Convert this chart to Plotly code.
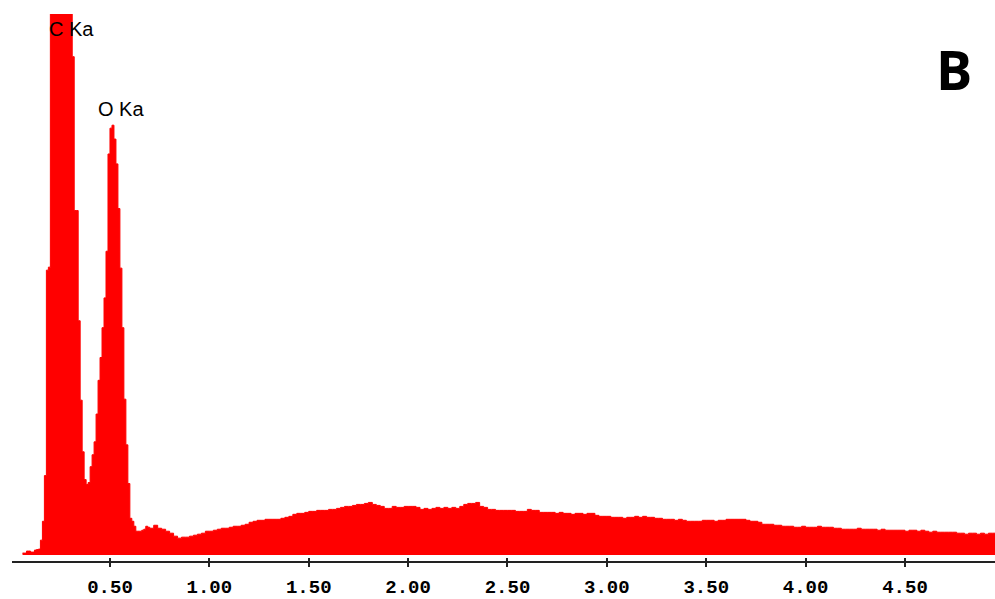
import plotly.graph_objects as go

# EDS spectrum: low-energy region sampled at 10 eV per channel
PEAK_START_KEV = 0.06
PEAK_STEP_KEV = 0.01
peak_counts = [
    4, 4, 8, 8,
    6, 6, 10, 11, 12, 30, 68, 160, 574, 580,
    1200, 1600, 1950, 2200, 2350, 2400, 2350, 2200, 1950, 1650,
    1350, 1004, 694, 694, 472, 312, 208, 152, 142, 146,
    178, 202, 228, 284, 352, 398, 458, 518, 612, 808,
    860, 866, 838, 788, 698, 578, 458, 314, 222, 144,
    74, 68, 58, 48, 48, 48, 50, 52, 58, 56,
]

# Bremsstrahlung continuum from 0.70 keV, binned at 20 eV
CONT_START_KEV = 0.70
CONT_STEP_KEV = 0.02
continuum_counts = [
    54, 60, 54, 52, 48, 44, 38, 34, 36, 36,
    38, 40, 42, 44, 48, 48, 50, 52, 54, 54,
    56, 58, 58, 60, 62, 66, 68, 70, 70, 72,
    72, 72, 72, 74, 76, 78, 82, 84, 84, 86,
    88, 88, 90, 90, 90, 92, 92, 94, 96, 98,
    98, 100, 102, 102, 104, 106, 102, 100, 98, 94,
    94, 98, 96, 96, 98, 98, 98, 96, 92, 94,
    92, 94, 96, 94, 96, 94, 96, 94, 98, 102,
    104, 104, 106, 98, 96, 92, 92, 90, 90, 90,
    90, 90, 88, 88, 88, 92, 90, 90, 86, 86,
    86, 86, 84, 86, 84, 84, 82, 84, 84, 82,
    84, 84, 80, 78, 78, 78, 76, 76, 76, 74,
    76, 76, 78, 76, 78, 76, 76, 74, 74, 72,
    72, 72, 70, 72, 70, 68, 68, 68, 68, 70,
    70, 70, 68, 70, 70, 72, 72, 72, 72, 72,
    70, 68, 68, 66, 62, 62, 62, 60, 60, 58,
    58, 58, 56, 56, 58, 56, 56, 56, 58, 56,
    56, 56, 54, 54, 52, 52, 52, 52, 54, 52,
    52, 52, 52, 50, 52, 50, 50, 50, 50, 50,
    48, 50, 50, 48, 50, 48, 46, 48, 46, 46,
    46, 46, 46, 44, 44, 42, 44, 44, 42, 44,
    42, 44, 44,
]

tick_values = [0.5, 1.0, 1.5, 2.0, 2.5, 3.0, 3.5, 4.0, 4.5]
tick_labels = ["0.50", "1.00", "1.50", "2.00", "2.50", "3.00", "3.50", "4.00", "4.50"]

peak_labels = ["C Ka", "O Ka"]
peak_label_kev = [0.305, 0.555]
peak_label_counts = [1060, 898]

# channel left edges, with a closing edge so the last step is drawn
energies = [PEAK_START_KEV + i * PEAK_STEP_KEV for i in range(len(peak_counts))]
energies += [CONT_START_KEV + j * CONT_STEP_KEV for j in range(len(continuum_counts))]
counts = peak_counts + continuum_counts
energies.append(CONT_START_KEV + len(continuum_counts) * CONT_STEP_KEV)
counts.append(continuum_counts[-1])

X_RANGE = [0.007, 4.953]
Y_RANGE = [-12, 1090]

fig = go.Figure()
fig.add_trace(go.Scatter(
    x=energies, y=counts,
    mode="lines", line=dict(shape="hv", width=1, color="#ff0000"),
    fill="tozeroy", fillcolor="#ff0000",
    hoverinfo="skip", showlegend=False,
))

for text, xk, yc in zip(peak_labels, peak_label_kev, peak_label_counts):
    fig.add_annotation(
        x=xk, y=yc, xref="x", yref="y", text=text, showarrow=False,
        xanchor="center", yanchor="middle",
        font=dict(family="Liberation Sans", size=20, color="#000000"),
    )

fig.add_annotation(
    x=0.958, y=0.900, xref="paper", yref="paper", text="<b>B</b>",
    showarrow=False, xanchor="center", yanchor="middle",
    font=dict(family="Open Sans", size=54, color="#000000"),
)

fig.update_layout(
    width=995, height=599, autosize=False,
    margin=dict(l=12, r=0, t=14, b=34, pad=0),
    paper_bgcolor="#ffffff", plot_bgcolor="#ffffff",
    xaxis=dict(
        range=X_RANGE, showgrid=False, zeroline=False,
        showline=True, linecolor="#222222", linewidth=2,
        ticks="outside", ticklen=4, tickwidth=2, tickcolor="#222222",
        tickmode="array", tickvals=tick_values, ticktext=tick_labels,
        tickfont=dict(family="Liberation Mono", size=19, color="#000000", weight="bold"),
        ticklabelstandoff=3,
    ),
    xaxis2=dict(
        range=X_RANGE, overlaying="x", anchor="y", side="bottom",
        showgrid=False, zeroline=False, showline=False,
        ticks="inside", ticklen=3, tickwidth=2, tickcolor="#222222",
        tickmode="array", tickvals=tick_values, showticklabels=False,
    ),
    yaxis=dict(range=Y_RANGE, visible=False, fixedrange=True),
)

# an empty trace so the second x axis (inner tick marks) is rendered
fig.add_trace(go.Scatter(x=[None], y=[None], xaxis="x2", yaxis="y",
                         showlegend=False, hoverinfo="skip"))

fig.write_html("out.html")
